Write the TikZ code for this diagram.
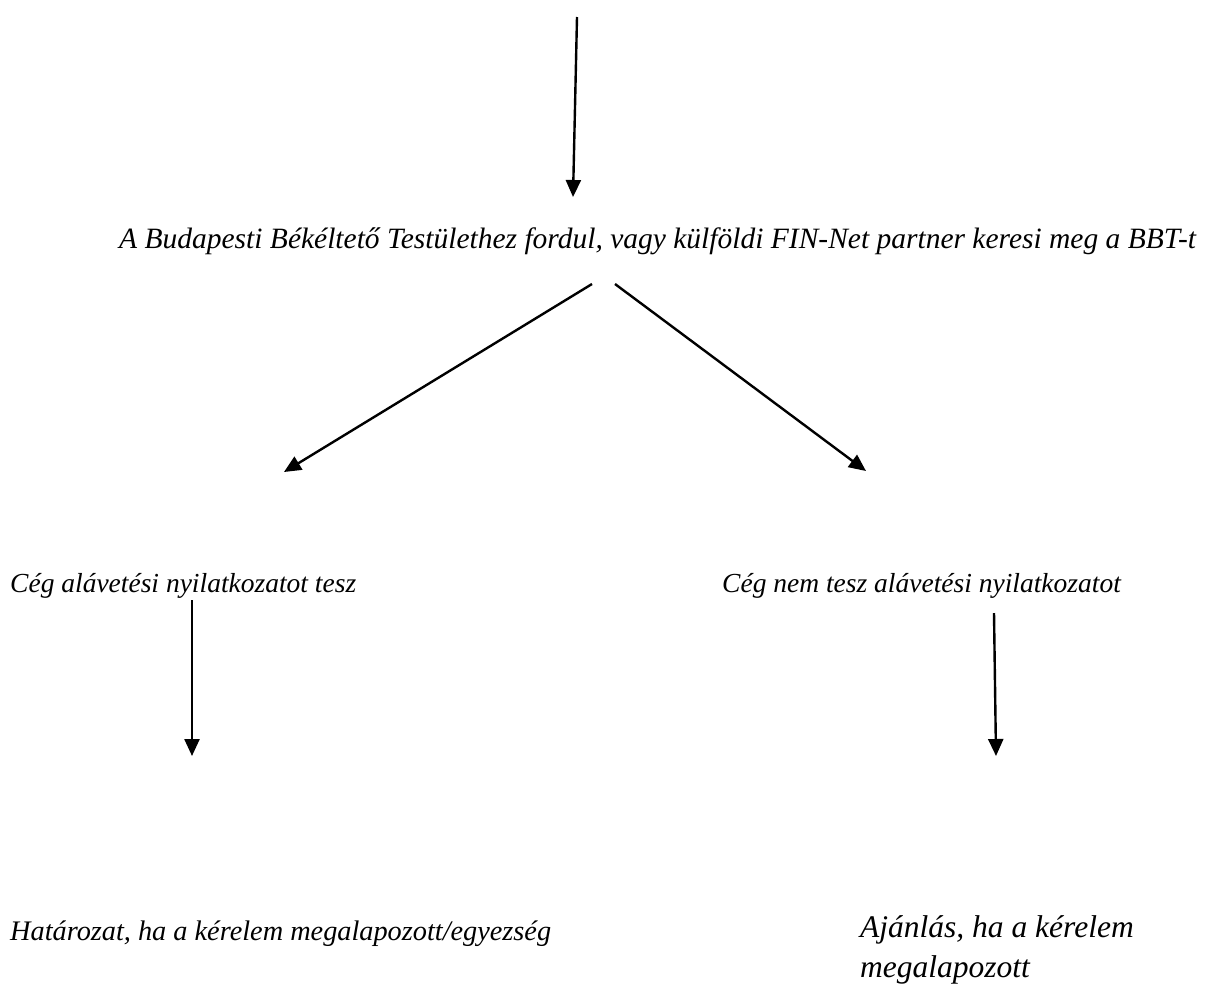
\documentclass[tikz,border=0pt]{standalone}
\usepackage{fontspec}
\setmainfont{Liberation Serif}
\usetikzlibrary{arrows.meta}
\begin{document}
\begin{tikzpicture}[x=1pt,y=-1pt,
  lbl/.style={anchor=base west,inner sep=0pt,font=\fontsize{27.5}{42}\selectfont\itshape,align=left},
  conn/.style={line width=2.4pt,-{Triangle[length=17pt,width=15pt]}}]
\useasboundingbox (0,0) rectangle (1209,986);
\node[lbl,font=\fontsize{29.5}{42}\selectfont\itshape] (main) at (119,248) {A Budapesti Békéltető Testülethez fordul, vagy külföldi FIN-Net partner keresi meg a BBT-t};
\node[lbl] (left) at (10,592) {Cég alávetési nyilatkozatot tesz};
\node[lbl] (right) at (722,592) {Cég nem tesz alávetési nyilatkozatot};
\node[lbl,font=\fontsize{28.3}{42}\selectfont\itshape] (lres) at (10,940) {Határozat, ha a kérelem megalapozott/egyezség};
\node[lbl,font=\fontsize{31.5}{40}\selectfont\itshape] (rres) at (860,977) {Ajánlás, ha a kérelem\\megalapozott};
\coordinate (topstart) at (577,17);
\coordinate (topend) at (573,197);
\coordinate (dlstart) at (592,284);
\coordinate (dlend) at (284,472);
\coordinate (drstart) at (615,284);
\coordinate (drend) at (866,471);
\coordinate (vlstart) at (192,600);
\coordinate (vlend) at (192,756);
\coordinate (vrstart) at (994,613);
\coordinate (vrend) at (996,756);
\draw[conn] (topstart) -- (topend);
\draw[conn] (dlstart) -- (dlend);
\draw[conn] (drstart) -- (drend);
\draw[conn] (vlstart) -- (vlend);
\draw[conn] (vrstart) -- (vrend);
\end{tikzpicture}
\end{document}
